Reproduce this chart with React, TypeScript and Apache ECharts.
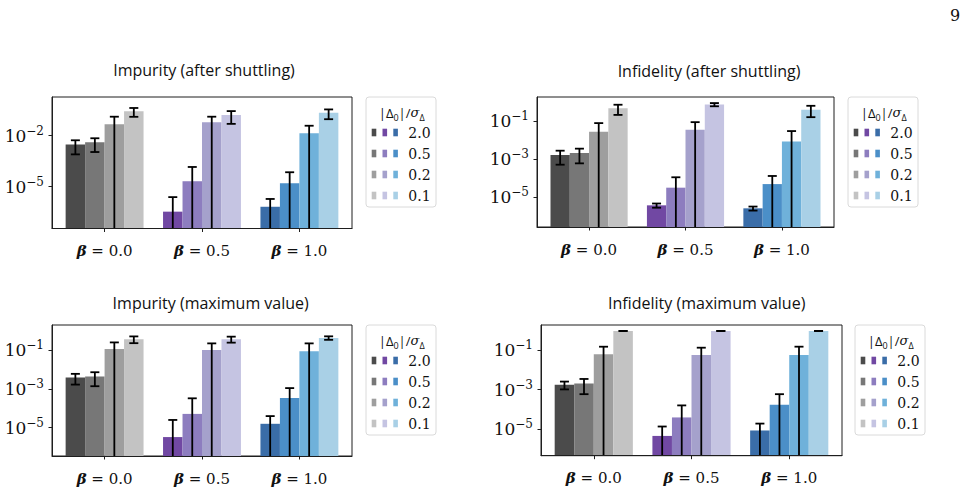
import React, { useEffect, useRef } from 'react';
import * as echarts from 'echarts';

// ---------- data ----------
const categories = ['0.0', '0.5', '1.0'];
const ratioLabels = ['2.0', '0.5', '0.2', '0.1'];
const panelTitles = [
  'Impurity (after shuttling)',
  'Infidelity (after shuttling)',
  'Impurity (maximum value)',
  'Infidelity (maximum value)',
];

// values[betaGroup][ratioIndex]
const impurityAfter = [[3.1e-3, 4.1e-3, 0.047, 0.28], [3.4e-7, 2.1e-5, 0.062, 0.166], [6.6e-7, 1.6e-5, 0.0138, 0.224]];
const impurityAfterErr = [[2.3e-3, 3.0e-3, 0.085, 0.15], [2.1e-6, 1.24e-4, 0.07, 0.116], [1.24e-6, 5.5e-5, 0.025, 0.13]];
const infidelityAfter = [[1.66e-3, 2.1e-3, 0.028, 0.49], [3.6e-6, 3.1e-5, 0.036, 0.78], [2.5e-6, 4.8e-5, 8.7e-3, 0.417]];
const infidelityAfterErr = [[1.15e-3, 1.5e-3, 0.053, 0.27], [0.9e-6, 7.9e-5, 0.055, 0.15], [0.6e-6, 8.1e-5, 0.022, 0.25]];
const impurityMax = [[3.9e-3, 4.4e-3, 0.117, 0.38], [3.3e-6, 5.2e-5, 0.105, 0.38], [1.6e-5, 3.4e-4, 0.091, 0.44]];
const impurityMaxErr = [[2.2e-3, 3.0e-3, 0.14, 0.145], [2.2e-5, 2.8e-4, 0.124, 0.13], [2.4e-5, 7.8e-4, 0.138, 0.09]];
const infidelityMax = [[1.8e-3, 2.04e-3, 0.063, 0.95], [4.5e-6, 3.9e-5, 0.0575, 0.95], [8.5e-6, 1.7e-4, 0.0575, 0.95]];
const infidelityMaxErr = [[0.77e-3, 1.45e-3, 0.088, 0.01], [9e-6, 1.2e-4, 0.077, 0.01], [1.05e-5, 4.2e-4, 0.094, 0.01]];

const yTicksImpAfter = [-5, -2];
const yTicksOther = [-5, -3, -1];

// colours[betaGroup][ratioIndex]
const greys = ['#4b4b4b', '#777777', '#9e9e9e', '#c3c3c3'];
const purples = ['#7148a3', '#8d7dbf', '#a5a1cc', '#c5c4e2'];
const blues = ['#3a6da8', '#4b8fc8', '#6fb1da', '#a9d0e6'];
const palette = [greys, purples, blues];

// ---------- layout ----------
const panels = [
  { vals: impurityAfter, errs: impurityAfterErr, ticks: yTicksImpAfter, left: 52, top: 97, width: 300, height: 131.5, yMin: -7.46, yMax: 0.28, tx: 204, ty: 70, lx: 366, ly: 97 },
  { vals: infidelityAfter, errs: infidelityAfterErr, ticks: yTicksOther, left: 537, top: 97, width: 297, height: 130, yMin: -6.59, yMax: 0.29, tx: 709, ty: 71, lx: 848, ly: 97 },
  { vals: impurityMax, errs: impurityMaxErr, ticks: yTicksOther, left: 52, top: 325, width: 300, height: 131, yMin: -6.46, yMax: 0.31, tx: 210.7, ty: 303, lx: 366, ly: 325 },
  { vals: infidelityMax, errs: infidelityMaxErr, ticks: yTicksOther, left: 541, top: 325, width: 301, height: 130.7, yMin: -6.35, yMax: 0.28, tx: 706.7, ty: 303, lx: 855, ly: 325 },
];

const SERIF = 'DejaVu Serif';
const SANS = 'Open Sans';
const BAR_W = 0.2;

function supLabel(v: number) {
  const s = (v < 0 ? '−' : '') + Math.abs(v);
  return `{b|10}{s|${s}}`;
}

function buildOption() {
  const grid: any[] = [];
  const xAxis: any[] = [];
  const yAxis: any[] = [];
  const series: any[] = [];
  const graphic: any[] = [];

  panels.forEach((p, k) => {
    grid.push({
      left: p.left, top: p.top, width: p.width, height: p.height,
      show: true, borderColor: '#1e1e1e', borderWidth: 1, backgroundColor: 'transparent',
    });
    xAxis.push({
      type: 'value', gridIndex: k, min: -0.54, max: 2.54, z: 10,
      axisLine: { show: true, onZero: false, lineStyle: { color: '#1e1e1e', width: 1 } },
      axisTick: { show: true, inside: false, length: 3.5, customValues: [0, 1, 2], lineStyle: { color: '#1e1e1e' } },
      axisLabel: {
        customValues: [0, 1, 2], margin: 15,
        formatter: (v: number) => `{b|β}{t| = ${categories[Math.round(v)]}}`,
        rich: {
          b: { fontFamily: SERIF, fontStyle: 'italic', fontWeight: 'bold', fontSize: 15, color: '#111' },
          t: { fontFamily: SERIF, fontSize: 15, color: '#111' },
        },
      },
      splitLine: { show: false },
    });
    yAxis.push({
      type: 'value', gridIndex: k, min: p.yMin, max: p.yMax, z: 10,
      axisLine: { show: true, onZero: false, lineStyle: { color: '#1e1e1e', width: 1 } },
      axisTick: { show: true, inside: false, length: 3.5, customValues: p.ticks, lineStyle: { color: '#1e1e1e' } },
      axisLabel: {
        customValues: p.ticks, margin: 8,
        formatter: (v: number) => supLabel(v),
        rich: {
          b: { fontFamily: SERIF, fontSize: 17, lineHeight: 22, color: '#111' },
          s: { fontFamily: SERIF, fontSize: 12, lineHeight: 10, verticalAlign: 'top', color: '#111' },
        },
      },
      splitLine: { show: false },
    });

    const data: number[][] = [];
    p.vals.forEach((row, g) => {
      row.forEach((v, r) => {
        const e = p.errs[g][r];
        const hi = Math.log10(v + e);
        const lo = v - e > 0 ? Math.log10(v - e) : -Infinity;
        data.push([g, r, Math.log10(v), lo, hi]);
      });
    });
    const yMin = p.yMin;

    series.push({
      type: 'custom', xAxisIndex: k, yAxisIndex: k, z: 2,
      data,
      renderItem: (params: any, api: any) => {
        const g = api.value(0), r = api.value(1), lv = api.value(2);
        const xc = g + (r - 1.5) * BAR_W;
        const a = api.coord([xc - BAR_W / 2, lv]);
        const b = api.coord([xc + BAR_W / 2, yMin]);
        return {
          type: 'rect',
          shape: { x: a[0], y: a[1], width: b[0] - a[0], height: b[1] - a[1] },
          style: { fill: palette[g][r] },
        };
      },
    });
    series.push({
      type: 'custom', xAxisIndex: k, yAxisIndex: k, z: 3,
      data,
      renderItem: (params: any, api: any) => {
        const g = api.value(0), r = api.value(1);
        const lo = data[params.dataIndex][3];
        const hi = data[params.dataIndex][4];
        const xc = g + (r - 1.5) * BAR_W;
        const clipped = !(lo > yMin);
        const top = api.coord([xc, hi]);
        const bot = api.coord([xc, clipped ? yMin : lo]);
        const cap = 4.5;
        const st = { stroke: '#000', lineWidth: 1.8 };
        const children: any[] = [
          { type: 'line', shape: { x1: top[0], y1: top[1], x2: bot[0], y2: bot[1] }, style: st },
          { type: 'line', shape: { x1: top[0] - cap, y1: top[1], x2: top[0] + cap, y2: top[1] }, style: st },
        ];
        if (!clipped) {
          children.push({ type: 'line', shape: { x1: bot[0] - cap, y1: bot[1], x2: bot[0] + cap, y2: bot[1] }, style: st });
        }
        return { type: 'group', children };
      },
    });

    // title
    graphic.push({
      type: 'text', x: p.tx, y: p.ty,
      style: { text: panelTitles[k], font: `16px "${SANS}"`, fill: '#111', textAlign: 'center', textVerticalAlign: 'middle' },
    });

    // legend box
    const lx = p.lx, ly = p.ly;
    const children: any[] = [
      { type: 'rect', shape: { x: 0, y: 0, width: 70, height: 110, r: 3 }, style: { fill: 'rgba(255,255,255,0.8)', stroke: '#dadada', lineWidth: 1 } },
      {
        type: 'text', x: 35.7, y: 15.5,
        style: {
          text: '{a||Δ}{sub|0}{a||/}{i|σ}{sub|Δ}',
          textAlign: 'center', textVerticalAlign: 'middle',
          rich: {
            a: { fontFamily: SANS, fontSize: 13, lineHeight: 18, fill: '#111' },
            i: { fontFamily: SERIF, fontStyle: 'italic', fontSize: 13, lineHeight: 18, fill: '#111' },
            sub: { fontFamily: SANS, fontSize: 9, lineHeight: 9, verticalAlign: 'bottom', fill: '#111' },
          },
        },
      },
    ];
    ratioLabels.forEach((lab, i) => {
      const ry = 35.5 + i * 21;
      [0, 1, 2].forEach((g) => {
        children.push({
          type: 'rect', shape: { x: 8 + g * 10.8 - 2.3, y: ry - 3.8, width: 4.6, height: 7.6 },
          style: { fill: palette[g][i] },
        });
      });
      children.push({
        type: 'text', x: 42.3, y: ry,
        style: { text: lab, font: `14px "${SERIF}"`, fill: '#111', textVerticalAlign: 'middle' },
      });
    });
    graphic.push({ type: 'group', x: lx, y: ly, children });
  });

  graphic.push({
    type: 'text', x: 955, y: 15,
    style: { text: '9', font: `16px "${SERIF}"`, fill: '#111', textAlign: 'center', textVerticalAlign: 'middle' },
  });

  return {
    animation: false,
    backgroundColor: '#ffffff',
    grid, xAxis, yAxis, series, graphic,
  };
}

export default function App() {
  const ref = useRef<HTMLDivElement>(null);
  useEffect(() => {
    if (!ref.current) return;
    const chart = echarts.init(ref.current, undefined, { renderer: 'svg' });
    chart.setOption(buildOption() as any);
    return () => chart.dispose();
  }, []);
  return <div ref={ref} style={{ position: 'fixed', left: 0, top: 0, width: 967, height: 490 }} />;
}
